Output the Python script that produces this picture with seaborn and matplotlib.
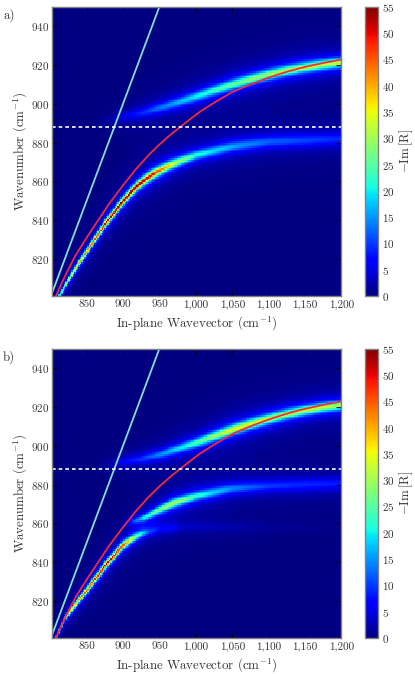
import numpy as np
import pandas as pd
import matplotlib
matplotlib.use('Agg')
import matplotlib.pyplot as plt
import seaborn as sns

# ridges: wavevector, centre, peak height, half width
LOWER_A_K = [803, 812, 830, 850, 875, 900, 920, 940, 960, 975, 1000, 1050, 1100, 1200]
LOWER_A_W = [795, 801, 812.5, 824, 838, 850, 858, 863.5, 867.5, 870, 873.5, 878, 880.5, 882]
LOWER_A_H = [20, 26, 36, 44, 52, 56, 56, 50, 40, 31, 22, 16, 12, 9]
LOWER_A_G = [1.0, 1.1, 1.2, 1.25, 1.4, 1.5, 1.6, 1.8, 1.9, 2.0, 2.2, 2.7, 3.0, 3.2]

UPPER_A_K = [860, 880, 900, 925, 950, 975, 1000, 1025, 1050, 1075, 1100, 1125, 1150, 1175, 1200]
UPPER_A_W = [890, 892, 893.5, 895.4, 898, 900.8, 903.8, 907, 910, 912.8, 915.2, 917.3, 919, 920.4, 921.5]
UPPER_A_H = [0.3, 1.5, 5, 9, 13, 16.5, 20, 23, 26, 28, 30, 31.5, 33, 32.5, 32]
UPPER_A_G = [2.8, 2.6, 2.4, 2.4, 2.4, 2.4, 2.4, 2.4, 2.4, 2.35, 2.3, 2.25, 2.2, 2.15, 2.1]

LOWER_B_K = [803, 818, 830, 850, 877, 900, 915, 925, 935, 950, 975]
LOWER_B_W = [797, 810, 816, 825.5, 839, 848.7, 852.5, 854.5, 855.5, 856.5, 857.5]
LOWER_B_H = [22, 30, 38, 46, 53, 47, 30, 19, 10, 4, 2]
LOWER_B_G = [1.0, 1.1, 1.2, 1.3, 1.4, 1.5, 1.6, 1.7, 1.8, 2.2, 2.2]

MIDDLE_B_K = [895, 905, 915, 930, 950, 970, 1000, 1050, 1100, 1200]
MIDDLE_B_W = [858, 860, 861, 863, 867, 870.5, 874, 878, 879.3, 880.5]
MIDDLE_B_H = [0.5, 3, 10, 20, 28, 32, 23, 14, 10, 8]
MIDDLE_B_G = [1.7, 1.7, 1.7, 1.7, 1.8, 1.9, 2.2, 2.5, 2.8, 3.0]

UPPER_B_K = [860, 880, 900, 925, 950, 975, 1000, 1025, 1050, 1075, 1100, 1125, 1150, 1175, 1200]
UPPER_B_W = [889, 890.5, 892, 893.3, 895.5, 898.5, 901.5, 905, 908.3, 911.3, 914, 916.4, 918.4, 920, 921]
UPPER_B_H = [0.3, 1.5, 6, 10, 14, 19, 24, 30, 35, 34, 33, 32.5, 32, 32, 32]
UPPER_B_G = [2.8, 2.5, 2.3, 2.2, 2.2, 2.2, 2.2, 2.2, 2.2, 2.2, 2.2, 2.15, 2.1, 2.05, 2.0]

BAND_B_K = [912, 925, 950, 1000, 1050, 1100, 1200]
BAND_B_W = [858, 858, 858, 858, 858, 858, 858]
BAND_B_H = [0.5, 2, 3, 3, 2, 1, 0.3]
BAND_B_G = [2.5, 2.5, 2.5, 2.5, 2.5, 2.5, 2.5]

# overlay curves
LIGHT_K = [803, 950]
LIGHT_W = [803, 950]
POLARITON_K = [808, 815, 822.5, 835, 850, 865, 880, 900, 917, 935, 950, 965, 978.5, 992, 1006,
               1025, 1050, 1075, 1100, 1125, 1150, 1175, 1200]
POLARITON_W = [801, 807, 813, 822, 831, 839.5, 848, 858, 866, 873.5, 879, 884, 888, 892, 896,
               900.5, 906, 910, 913.5, 916.5, 919, 921, 922.8]
PHONON_W = [888, 888]
PHONON_K = [803, 1200]

K_TICKS = [850, 900, 950, 1000, 1050, 1100, 1150, 1200]
K_LABELS = ['850', '900', '950', '1,000', '1,050', '1,100', '1,150', '1,200']
W_TICKS = [820, 840, 860, 880, 900, 920, 940]
CBAR_TICKS = [0, 5, 10, 15, 20, 25, 30, 35, 40, 45, 50, 55]

K_GRID = np.linspace(803, 1200, 200)
W_GRID = np.linspace(801, 950, 170)

GREY = '#808080'
TEXT = '#333333'


def ridge_field(branches):
    field = np.zeros((len(W_GRID), len(K_GRID)))
    kk, ww = np.meshgrid(K_GRID, W_GRID)
    for k, w, h, g in branches:
        centre = np.interp(kk, k, w)
        height = np.interp(kk, k, h, left=0, right=0)
        width = np.interp(kk, k, g)
        field += height / (1 + ((ww - centre) / width) ** 2)
    return pd.DataFrame(field[::-1], index=W_GRID[::-1], columns=K_GRID)


def draw_panel(fig, top_px, field, tag):
    w, h = 415, 674
    rect = [52.4 / w, 1 - (top_px + 289.3) / h, 289 / w, 289.3 / h]
    ax = fig.add_axes(rect)
    cax = fig.add_axes([364.8 / w, rect[1], 13.6 / w, rect[3]])
    sns.heatmap(field, ax=ax, cbar_ax=cax, cmap='jet', vmin=0, vmax=55,
                xticklabels=False, yticklabels=False,
                cbar_kws={'ticks': CBAR_TICKS})
    ax.set_xlabel('')
    ax.set_ylabel('')

    over = fig.add_axes(rect, facecolor='none')
    sns.lineplot(x=LIGHT_K, y=LIGHT_W, ax=over, color='#7fe3d8', lw=1.3)
    sns.lineplot(x=POLARITON_K, y=POLARITON_W, ax=over, color='#f02c3c', lw=1.3)
    sns.lineplot(x=PHONON_K, y=PHONON_W, ax=over, color='white', lw=1.2, linestyle=(0, (2.2, 1.8)))
    over.set_xlim(803, 1200)
    over.set_ylim(801, 950)
    over.set_xticks(K_TICKS)
    over.set_xticklabels(K_LABELS)
    over.set_yticks(W_TICKS)
    over.tick_params(direction='in', length=3.6, width=0.6, color='black', top=True, right=True,
                     labelsize=8, labelcolor=TEXT, pad=2.5)
    for s in over.spines.values():
        s.set_visible(True)
        s.set_color(GREY)
        s.set_linewidth(1)
    over.set_xlabel('In-plane Wavevector (cm$^{-1}$)', fontsize=9.25, color=TEXT, labelpad=3)
    over.set_ylabel('Wavenumber (cm$^{-1}$)', fontsize=9.25, color=TEXT, labelpad=1)
    over.text(3 / w, 1 - (top_px + 8.5) / h, tag, transform=fig.transFigure, fontsize=9.25, color=TEXT, va='center')

    cb = ax.collections[0].colorbar
    cb.outline.set_linewidth(1)
    cb.outline.set_edgecolor(GREY)
    cb.set_label(r'$-\mathrm{Im}\,[\mathrm{R}]$', fontsize=9.25, color=TEXT, labelpad=2)
    cax.tick_params(direction='in', length=3.4, width=0.6, color='black', left=True, right=True,
                    labelsize=8, labelcolor=TEXT, pad=2.5)


def main():
    sns.set_style('ticks')
    plt.rcParams['font.family'] = ['cmr10', 'DejaVu Serif']
    plt.rcParams['mathtext.fontset'] = 'cm'
    plt.rcParams['axes.formatter.use_mathtext'] = True
    plt.rcParams['axes.unicode_minus'] = False

    field_a = ridge_field([(LOWER_A_K, LOWER_A_W, LOWER_A_H, LOWER_A_G),
                           (UPPER_A_K, UPPER_A_W, UPPER_A_H, UPPER_A_G)])
    field_b = ridge_field([(LOWER_B_K, LOWER_B_W, LOWER_B_H, LOWER_B_G),
                           (MIDDLE_B_K, MIDDLE_B_W, MIDDLE_B_H, MIDDLE_B_G),
                           (UPPER_B_K, UPPER_B_W, UPPER_B_H, UPPER_B_G),
                           (BAND_B_K, BAND_B_W, BAND_B_H, BAND_B_G)])

    fig = plt.figure(figsize=(4.15, 6.74), dpi=100)
    draw_panel(fig, 6.7, field_a, 'a)')
    draw_panel(fig, 348.6, field_b, 'b)')
    fig.savefig('out.png', dpi=100)


if __name__ == '__main__':
    main()
